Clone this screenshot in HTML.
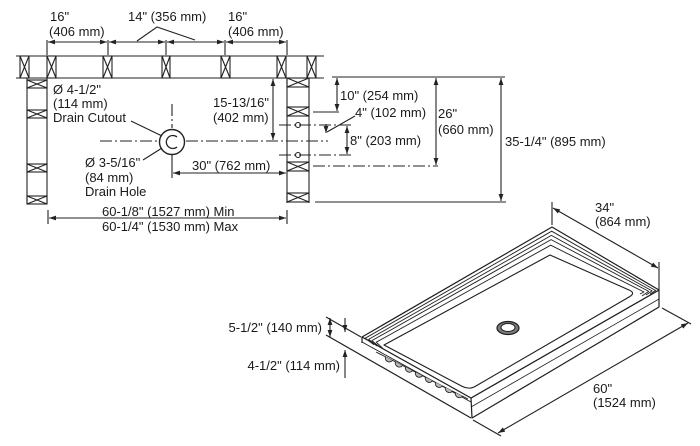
<!DOCTYPE html>
<html><head><meta charset="utf-8"><style>
html,body{margin:0;padding:0;background:#fff;}
svg{display:block;}
text{font-family:"Liberation Sans",Arial,sans-serif;font-size:13px;fill:#1a1a1a;}
</style></head><body>
<svg width="700" height="446" viewBox="0 0 700 446" xmlns="http://www.w3.org/2000/svg">
<defs>
<marker id="a" markerWidth="7" markerHeight="6" refX="7" refY="3" orient="auto-start-reverse" markerUnits="userSpaceOnUse"><path d="M0,0.6 L7,3 L0,5.4z" fill="#222"/></marker>
</defs>
<rect width="700" height="446" fill="#fff"/>
<g stroke="#222" stroke-width="1.1" fill="none">
<!-- top wall -->
<line x1="16" y1="56" x2="324" y2="56"/>
<line x1="16" y1="78" x2="324" y2="78"/>
<!-- top wall studs -->
<g>
<rect x="20" y="56" width="9" height="22"/><path d="M20,56L29,78M29,56L20,78"/>
<rect x="47" y="56" width="9" height="22"/><path d="M47,56L56,78M56,56L47,78"/>
<rect x="103" y="56" width="9" height="22"/><path d="M103,56L112,78M112,56L103,78"/>
<rect x="162" y="56" width="8" height="22"/><path d="M162,56L170,78M170,56L162,78"/>
<rect x="221" y="56" width="9" height="22"/><path d="M221,56L230,78M230,56L221,78"/>
<rect x="277" y="56" width="9" height="22"/><path d="M277,56L286,78M286,56L277,78"/>
<rect x="307" y="56" width="9" height="22"/><path d="M307,56L316,78M316,56L307,78"/>
</g>
<!-- left wall -->
<line x1="27" y1="78" x2="27" y2="204"/>
<line x1="47" y1="78" x2="47" y2="204"/>
<rect x="27" y="80" width="20" height="8"/><path d="M27,80L47,88M47,80L27,88"/>
<rect x="27" y="110" width="20" height="8"/><path d="M27,110L47,118M47,110L27,118"/>
<rect x="27" y="164" width="20" height="8"/><path d="M27,164L47,172M47,164L27,172"/>
<rect x="27" y="196" width="20" height="8"/><path d="M27,196L47,204M47,196L27,204"/>
<!-- right wall -->
<line x1="287" y1="78" x2="287" y2="203"/>
<line x1="309" y1="78" x2="309" y2="203"/>
<rect x="287" y="78" width="22" height="9"/><path d="M287,78L309,87M309,78L287,87"/>
<rect x="287" y="107" width="22" height="9"/><path d="M287,107L309,116M309,107L287,116"/>
<rect x="287" y="162" width="22" height="9"/><path d="M287,162L309,171M309,162L287,171"/>
<rect x="287" y="193" width="22" height="9"/><path d="M287,193L309,202M309,193L287,202"/>
<circle cx="298" cy="125" r="2.5"/>
<circle cx="298" cy="155" r="2.5"/>
<!-- dash-dot lines -->
<g stroke-dasharray="12 3 2 3">
<line x1="279" y1="125" x2="352" y2="125"/>
<line x1="279" y1="155" x2="352" y2="155"/>
<line x1="100" y1="141" x2="158" y2="141"/>
<line x1="186" y1="141" x2="328" y2="141"/>
<line x1="313" y1="166" x2="438" y2="166"/>
<line x1="172" y1="104" x2="172" y2="128"/>
</g>
<!-- extension lines right -->
<line x1="332" y1="77" x2="505" y2="77"/>
<line x1="313" y1="112" x2="339" y2="112"/>
<line x1="315" y1="202" x2="506" y2="202"/>
<!-- vertical dims -->
<line x1="273" y1="79" x2="273" y2="140" marker-start="url(#a)" marker-end="url(#a)"/>
<line x1="337" y1="78" x2="337" y2="111" marker-start="url(#a)" marker-end="url(#a)"/>
<line x1="347" y1="126" x2="347" y2="154" marker-start="url(#a)" marker-end="url(#a)"/>
<line x1="436" y1="78" x2="436" y2="165" marker-start="url(#a)" marker-end="url(#a)"/>
<line x1="501" y1="78" x2="501" y2="201" marker-start="url(#a)" marker-end="url(#a)"/>
<!-- 4" small dim + leader -->
<line x1="326" y1="124" x2="326" y2="133" marker-end="url(#a)"/>
<line x1="355" y1="116" x2="327" y2="132"/>
<!-- drain -->
<circle cx="172" cy="142" r="12.5" stroke-width="1.4"/>
<path d="M177,137 A6.5,6.5 0 1 0 177,147" stroke-width="1.3"/>
<line x1="172" y1="155" x2="172" y2="178"/>
<line x1="173" y1="173" x2="286" y2="173" marker-start="url(#a)" marker-end="url(#a)"/>
<!-- leaders -->
<line x1="131" y1="121" x2="162" y2="136"/>
<line x1="143" y1="160" x2="162" y2="148"/>
<!-- top dims -->
<line x1="47" y1="40" x2="47" y2="55"/>
<line x1="108" y1="40" x2="108" y2="55"/>
<line x1="166" y1="40" x2="166" y2="55"/>
<line x1="225" y1="40" x2="225" y2="55"/>
<line x1="287" y1="40" x2="287" y2="55"/>
<line x1="48" y1="42" x2="107" y2="42" marker-start="url(#a)" marker-end="url(#a)"/>
<line x1="109" y1="42" x2="165" y2="42" marker-start="url(#a)" marker-end="url(#a)"/>
<line x1="167" y1="42" x2="224" y2="42" marker-start="url(#a)" marker-end="url(#a)"/>
<line x1="226" y1="42" x2="286" y2="42" marker-start="url(#a)" marker-end="url(#a)"/>
<path d="M137,41 L157,27 L195,40"/>
<!-- bottom dim -->
<line x1="48" y1="210" x2="48" y2="224"/>
<line x1="287" y1="210" x2="287" y2="224"/>
<line x1="49" y1="218" x2="286" y2="218" marker-start="url(#a)" marker-end="url(#a)"/>
</g>

<!-- tray -->
<g stroke="#1e1e1e" stroke-width="1.2" fill="#fff" stroke-linejoin="round">
<!-- left face -->
<polygon points="362,337 471,398 471,418 362,356" stroke="none"/>
<line x1="326" y1="335" x2="471" y2="418"/>
<line x1="362" y1="337" x2="362" y2="343"/>
<line x1="362" y1="342" x2="471" y2="402" stroke-width="0.9"/>
<line x1="376" y1="352" x2="468" y2="399" stroke-width="0.9"/>
<g fill="#b8b8b8" stroke-width="0.9">
<path d="M385.5,356.8 A4,4 0 0 0 392.5,360.4"/>
<path d="M395.5,361.9 A4,4 0 0 0 402.5,365.5"/>
<path d="M405.5,367 A4,4 0 0 0 412.5,370.6"/>
<path d="M415.5,372.1 A4,4 0 0 0 422.5,375.7"/>
<path d="M425.5,377.2 A4,4 0 0 0 432.5,380.8"/>
<path d="M435.5,382.3 A4,4 0 0 0 442.5,385.9"/>
<path d="M445.5,387.4 A4,4 0 0 0 452.5,391"/>
<path d="M455.5,392.5 A4,4 0 0 0 462.5,396.1"/>
</g>
<!-- right face -->
<polygon points="471,398 659,290 659,307 472,418"/>
<line x1="471" y1="407" x2="659" y2="299" stroke-width="0.8"/>
<!-- top surface -->
<polygon points="362,337 552,227 659,290 471,398"/>
<!-- rim lines -->
<g fill="none" stroke-width="0.9">
<polyline points="374,344.8 365.3,338.2 551.7,231.2 655.6,290.5 650,294"/>
<polyline points="377,346 368.6,339.4 551.4,235.4 652.1,290.9 646,295"/>
<polyline points="380,347.2 371.9,340.6 551.1,239.6 648.7,291.4 642,296"/>
<polyline points="383,348.6 376.3,342.2 550.7,245.2 644,292 640,294"/>
</g>
<!-- basin -->
<path d="M384,345 L550,255 L629,290 Q636,293 629.3,296.9 L475.7,386.1 Q469,390 462.2,386.4 Z" fill="#fff" stroke-width="1.1"/>
<!-- drain -->
<ellipse cx="508" cy="328" rx="11" ry="6.5" fill="#7a7a7a" stroke-width="1.2"/>
<ellipse cx="508" cy="327.5" rx="7" ry="4" fill="#fff" stroke-width="1"/>
</g>

<!-- tray dims -->
<g stroke="#222" stroke-width="1.1" fill="none">
<line x1="552" y1="202" x2="552" y2="225"/>
<line x1="659" y1="262" x2="659" y2="290"/>
<line x1="553" y1="208" x2="658" y2="268" marker-start="url(#a)" marker-end="url(#a)"/>
<line x1="473" y1="420" x2="501" y2="436"/>
<line x1="662" y1="308" x2="691" y2="324"/>
<line x1="498" y1="433" x2="688" y2="323" marker-start="url(#a)" marker-end="url(#a)"/>
<line x1="326" y1="317" x2="361" y2="337"/>
<line x1="330" y1="318" x2="330" y2="337" marker-start="url(#a)" marker-end="url(#a)"/>
<line x1="345" y1="318" x2="345" y2="332" marker-end="url(#a)"/>
<line x1="345" y1="378" x2="345" y2="350" marker-end="url(#a)"/>
</g>

<!-- text -->
<text x="50" y="21">16"</text>
<text x="49" y="36">(406 mm)</text>
<text x="128" y="21">14" (356 mm)</text>
<text x="228" y="21">16"</text>
<text x="228" y="36">(406 mm)</text>
<text x="53" y="94">Ø 4-1/2"</text>
<text x="53" y="108">(114 mm)</text>
<text x="53" y="122">Drain Cutout</text>
<text x="85" y="167">Ø 3-5/16"</text>
<text x="85" y="182">(84 mm)</text>
<text x="85" y="196">Drain Hole</text>
<text x="213" y="107">15-13/16"</text>
<text x="213" y="122">(402 mm)</text>
<text x="340" y="100">10" (254 mm)</text>
<text x="355" y="117">4" (102 mm)</text>
<text x="350" y="145">8" (203 mm)</text>
<text x="438" y="118">26"</text>
<text x="438" y="134">(660 mm)</text>
<text x="505" y="146">35-1/4" (895 mm)</text>
<text x="192" y="170">30" (762 mm)</text>
<text x="102" y="216">60-1/8" (1527 mm) Min</text>
<text x="102" y="231">60-1/4" (1530 mm) Max</text>
<text x="595" y="212">34"</text>
<text x="595" y="226">(864 mm)</text>
<text x="593" y="393">60"</text>
<text x="593" y="407">(1524 mm)</text>
<text x="322" y="332" text-anchor="end">5-1/2" (140 mm)</text>
<text x="340" y="370" text-anchor="end">4-1/2" (114 mm)</text>
</svg>
</body></html>
